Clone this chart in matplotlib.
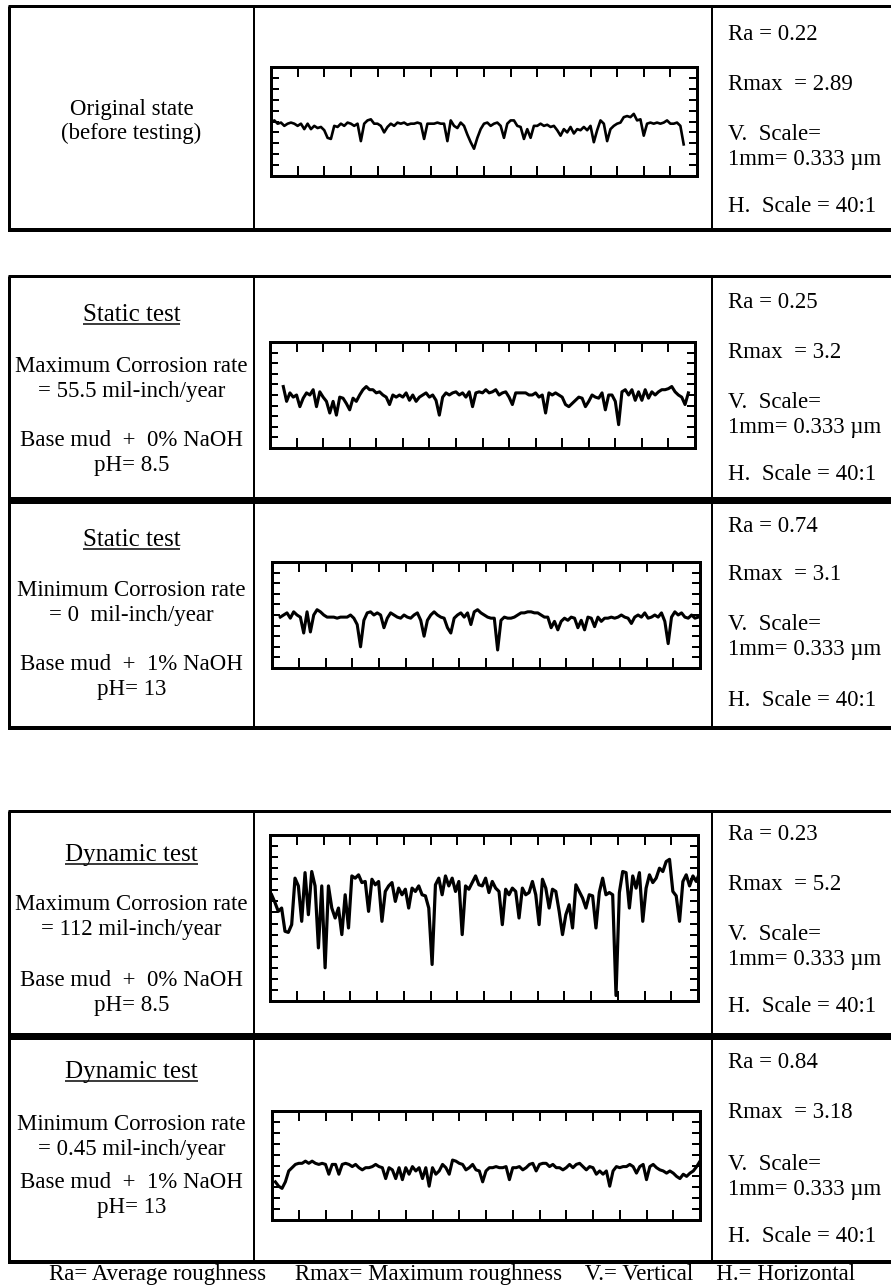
import numpy as np
import matplotlib
matplotlib.use("Agg")
import matplotlib.pyplot as plt

# ---- data -----------------------------------------------------------------
# profile heights in frame-tick units (0 = bottom edge), sampled every 1/8 tick
PROFILE_ORIGINAL = [
    4.9, 5.1, 4.8, 4.9, 4.6, 4.8, 4.9, 4.8,
    4.6, 4.8, 4.3, 4.8, 4.3, 4.6, 4.4, 4.5,
    4.2, 3.5, 3.4, 4.6, 4.5, 4.8, 4.6, 4.9,
    4.8, 4.6, 4.8, 3.2, 4.8, 5.1, 5.2, 4.8,
    4.8, 4.6, 4.0, 4.5, 4.8, 4.6, 4.9, 4.8,
    4.9, 4.7, 4.8, 4.8, 4.9, 4.8, 3.4, 4.8,
    4.8, 4.8, 4.9, 4.8, 4.8, 3.2, 5.1, 4.6,
    4.4, 4.9, 4.6, 3.8, 3.1, 2.5, 3.5, 4.3,
    4.8, 4.9, 4.6, 4.8, 4.9, 4.6, 3.5, 4.8,
    5.1, 5.1, 4.6, 4.5, 3.4, 4.3, 3.5, 4.6,
    4.6, 4.8, 4.6, 4.7, 4.5, 4.6, 4.2, 3.7,
    4.3, 4.0, 4.5, 3.9, 4.3, 4.2, 4.5, 4.2,
    4.6, 3.1, 4.2, 5.1, 4.8, 3.2, 4.3, 4.6,
    4.8, 4.9, 5.4, 5.5, 5.4, 5.7, 5.1, 5.2,
    3.7, 4.8, 4.9, 4.8, 4.9, 4.8, 4.9, 5.1,
    4.8, 4.8, 4.9, 4.6, 2.9,
]

PROFILE_STATIC_MAX = [
    5.8, 4.4, 5.2, 4.8, 5.0, 3.9, 4.7, 5.2,
    5.0, 5.5, 3.9, 5.3, 4.8, 4.4, 3.3, 4.4,
    3.1, 4.8, 4.7, 4.2, 3.6, 4.7, 4.4, 5.0,
    5.5, 5.8, 5.5, 5.5, 5.2, 5.3, 5.0, 4.8,
    4.1, 5.0, 4.8, 5.0, 4.8, 5.2, 4.5, 5.0,
    4.4, 4.8, 5.0, 5.2, 4.8, 5.0, 4.5, 3.1,
    4.8, 5.2, 5.0, 5.2, 5.3, 5.0, 5.2, 4.8,
    5.3, 3.9, 5.2, 5.3, 5.2, 5.5, 5.2, 5.3,
    5.5, 5.0, 5.2, 5.3, 4.8, 4.1, 5.2, 5.2,
    5.2, 5.2, 5.0, 5.0, 5.2, 4.8, 5.0, 3.3,
    5.2, 5.0, 5.2, 5.0, 4.8, 4.1, 3.9, 4.2,
    4.5, 4.8, 4.7, 3.9, 4.4, 5.0, 4.8, 4.7,
    5.2, 3.6, 5.0, 5.0, 4.4, 2.2, 5.3, 5.5,
    5.0, 5.5, 4.5, 5.3, 4.5, 5.5, 4.7, 5.3,
    5.0, 5.3, 5.5, 5.5, 5.6, 5.8, 5.3, 5.0,
    4.8, 4.1, 5.2,
]

PROFILE_STATIC_MIN = [
    4.8, 5.0, 5.2, 4.7, 5.3, 5.0, 4.8, 3.3,
    5.3, 3.4, 5.0, 5.5, 5.3, 5.0, 4.8, 4.8,
    4.8, 4.7, 4.8, 4.8, 4.8, 5.0, 4.7, 4.1,
    2.0, 4.5, 5.2, 5.3, 5.0, 5.2, 5.0, 3.8,
    4.7, 5.2, 5.0, 4.8, 4.7, 5.0, 4.8, 4.7,
    5.0, 5.2, 4.5, 3.0, 4.5, 5.0, 5.3, 5.0,
    4.8, 4.7, 3.8, 3.3, 4.7, 5.0, 5.2, 4.8,
    5.2, 4.1, 5.3, 5.5, 5.2, 5.0, 4.8, 4.7,
    4.7, 1.7, 4.5, 4.8, 4.7, 4.7, 4.8, 5.0,
    5.2, 5.2, 5.3, 5.3, 5.2, 5.2, 5.0, 4.8,
    4.8, 3.8, 4.4, 3.6, 4.4, 4.7, 4.5, 4.8,
    4.7, 3.8, 4.5, 3.6, 4.8, 4.7, 3.9, 4.8,
    4.4, 4.7, 4.7, 4.8, 4.7, 4.8, 5.0, 4.8,
    4.7, 4.2, 4.8, 5.0, 4.8, 5.2, 4.7, 4.8,
    5.0, 4.8, 5.2, 4.4, 2.3, 4.8, 5.3, 5.0,
    5.2, 4.8, 4.7, 5.0, 4.7, 4.8,
]

PROFILE_DYNAMIC_MAX = [
    9.6, 8.9, 8.1, 8.4, 6.3, 6.2, 6.9, 11.1,
    10.4, 7.2, 11.6, 7.8, 11.7, 10.4, 4.8, 10.4,
    3.0, 10.4, 8.4, 7.5, 8.4, 6.0, 9.6, 6.6,
    11.3, 11.1, 11.4, 10.7, 10.8, 8.1, 11.0, 10.5,
    10.8, 7.2, 9.9, 10.4, 10.7, 9.0, 10.2, 9.6,
    10.1, 8.4, 10.2, 9.9, 10.4, 9.6, 9.5, 8.4,
    3.3, 10.5, 11.1, 9.6, 11.3, 10.4, 11.1, 9.9,
    10.8, 6.0, 10.4, 10.1, 10.7, 11.3, 10.5, 10.4,
    11.1, 9.8, 10.8, 10.2, 9.9, 6.9, 10.1, 9.6,
    10.2, 9.9, 7.5, 10.2, 9.6, 9.8, 10.8, 9.6,
    6.9, 11.0, 10.2, 8.4, 10.1, 9.9, 8.1, 6.0,
    7.8, 8.7, 6.6, 10.5, 9.9, 9.3, 8.4, 9.6,
    9.5, 6.6, 9.8, 11.1, 9.6, 9.8, 9.6, 0.5,
    9.8, 11.7, 11.6, 8.4, 11.3, 10.2, 11.6, 7.2,
    10.2, 11.4, 10.7, 11.1, 12.0, 11.7, 12.6, 12.8,
    9.9, 9.5, 7.2, 10.8, 11.4, 10.4, 11.3, 10.8,
    11.6,
]

PROFILE_DYNAMIC_MIN = [
    3.5, 3.1, 2.9, 3.5, 4.5, 4.8, 5.1, 5.2,
    5.2, 5.4, 5.2, 5.4, 5.2, 5.1, 5.2, 5.1,
    4.2, 5.1, 5.1, 4.2, 5.1, 5.2, 5.1, 4.9,
    5.1, 4.8, 4.6, 4.8, 4.8, 4.9, 5.1, 4.9,
    4.8, 3.8, 4.8, 4.6, 3.8, 4.8, 3.7, 4.8,
    4.2, 4.9, 4.5, 4.8, 3.8, 4.8, 3.1, 4.8,
    4.2, 4.5, 5.1, 4.8, 4.2, 5.5, 5.4, 5.2,
    5.1, 4.6, 4.8, 5.1, 4.6, 4.5, 3.5, 4.5,
    4.8, 4.8, 4.9, 4.8, 4.8, 4.9, 3.7, 4.8,
    4.8, 4.9, 4.6, 4.8, 5.1, 5.2, 4.5, 5.1,
    5.2, 5.2, 4.9, 5.1, 4.8, 4.8, 4.6, 4.8,
    5.1, 4.8, 5.1, 5.2, 4.9, 4.6, 4.9, 4.8,
    4.2, 4.5, 4.2, 4.5, 3.1, 4.5, 4.9, 4.8,
    4.9, 4.9, 5.1, 4.9, 4.3, 4.9, 5.1, 3.7,
    4.9, 5.1, 4.8, 4.6, 4.5, 4.3, 4.5, 4.3,
    4.0, 3.8, 4.2, 4.0, 4.3, 4.5, 4.9, 5.4,
]

PROFILES = [PROFILE_ORIGINAL, PROFILE_STATIC_MAX, PROFILE_STATIC_MIN,
            PROFILE_DYNAMIC_MAX, PROFILE_DYNAMIC_MIN]
PROFILE_START = [0.0, 0.5, 0.31, 0.06, 0.125]   # tick units where the trace begins
FRAME_HEIGHT_TICKS = [10, 10, 10, 15, 10]

TITLES = [None, "Static test", "Static test", "Dynamic test", "Dynamic test"]
CONDITION_TEXT = [
    ["Original state", "(before testing)"],
    ["Maximum Corrosion rate", "= 55.5 mil-inch/year", "Base mud  +  0% NaOH", "pH= 8.5"],
    ["Minimum Corrosion rate", "= 0  mil-inch/year", "Base mud  +  1% NaOH", "pH= 13"],
    ["Maximum Corrosion rate", "= 112 mil-inch/year", "Base mud  +  0% NaOH", "pH= 8.5"],
    ["Minimum Corrosion rate", "= 0.45 mil-inch/year", "Base mud  +  1% NaOH", "pH= 13"],
]
RA = ["0.22", "0.25", "0.74", "0.23", "0.84"]
RMAX = ["2.89", "3.2", "3.1", "5.2", "3.18"]
V_SCALE = "1mm= 0.333 \u00b5m"
H_SCALE = "40:1"
FOOTER = ("Ra= Average roughness     Rmax= Maximum roughness    "
          "V.= Vertical    H.= Horizontal")

# ---- layout (pixels of the 891 x 1287 page) ---------------------------------
W, H = 891, 1287
X_LEFT, X_COL1, X_COL2 = 9, 254, 712
# (top, separator, bottom) of the three boxes
BOXES = [(6, None, 230), (276, 500, 728), (811, 1036, 1262)]
# profile frames: x0, x1, y0 (top), y1 (bottom)
FRAMES = [(271, 697, 67, 176), (270, 695, 342, 448), (272, 700, 562, 668),
          (270, 698, 835, 1001), (272, 700, 1111, 1220)]
TRACE_WIDTH = [1.9, 2.2, 2.2, 2.3, 2.2]
TITLE_Y = [None, 313, 538, 853, 1070]
COND_Y = [[107, 132], [365, 390, 438, 463], [588, 613, 663, 688],
          [903, 928, 978, 1003], [1122, 1147, 1180, 1205]]
RIGHT_Y = [[33, 83, 132, 157, 205], [300, 350, 400, 425, 473],
           [525, 573, 623, 648, 698], [832, 882, 932, 957, 1005],
           [1060, 1110, 1163, 1187, 1235]]

PX = 0.72  # points per pixel at 100 dpi
plt.rcParams["font.family"] = ["Liberation Serif", "DejaVu Serif"]
BODY = 16.5
TITLE = 18

fig = plt.figure(figsize=(W / 100, H / 100), dpi=100)
fig.patch.set_facecolor("white")
bg = fig.add_axes([0, 0, 1, 1])
bg.set_xlim(0, W)
bg.set_ylim(H, 0)
bg.axis("off")


def hline(y, x0, x1, px):
    bg.plot([x0, x1], [y, y], color="black", lw=px * PX, solid_capstyle="butt")


def vline(x, y0, y1, px):
    bg.plot([x, x], [y0, y1], color="black", lw=px * PX, solid_capstyle="butt")


for top, sep, bottom in BOXES:
    hline(top, X_LEFT - 1.5, W, 3)
    hline(bottom, X_LEFT - 1.5, W, 4)
    if sep is not None:
        hline(sep, X_LEFT, W, 7)
    vline(X_LEFT, top, bottom, 3)
    vline(X_COL1, top, bottom, 2)
    vline(X_COL2, top, bottom, 2)

renderer = fig.canvas.get_renderer()
x_mid = (X_LEFT + X_COL1) / 2

for i in range(5):
    # left column
    if TITLES[i]:
        base = TITLE_Y[i] + 8
        t = bg.text(x_mid, base, TITLES[i], fontsize=TITLE, ha="center", va="baseline")
        bb = t.get_window_extent(renderer)
        hline(base + 3, bb.x0, bb.x1, 1.5)
    for line, y in zip(CONDITION_TEXT[i], COND_Y[i]):
        bg.text(x_mid, y + 7.5, line, fontsize=BODY, ha="center", va="baseline")

    # right column
    right_lines = [f"Ra = {RA[i]}", f"Rmax  = {RMAX[i]}", "V.  Scale=",
                   V_SCALE, f"H.  Scale = {H_SCALE}"]
    for line, y in zip(right_lines, RIGHT_Y[i]):
        bg.text(X_COL2 + 16, y + 7.5, line, fontsize=BODY, ha="left", va="baseline")

    # profile trace
    x0, x1, y0, y1 = FRAMES[i]
    ax = fig.add_axes([x0 / W, 1 - y1 / H, (x1 - x0) / W, (y1 - y0) / H])
    vals = np.array(PROFILES[i])
    xs = PROFILE_START[i] + np.arange(len(vals)) * 0.125
    ax.plot(xs, vals, color="black", lw=TRACE_WIDTH[i], solid_joinstyle="round")
    ny = FRAME_HEIGHT_TICKS[i]
    ax.set_xlim(0, 16)
    ax.set_ylim(0, ny)
    ax.set_xticks(range(1, 16))
    ax.set_yticks(range(1, ny))
    ax.tick_params(axis="x", direction="in", top=True, bottom=True, length=10 * PX,
                   width=2 * PX, labelbottom=False)
    ax.tick_params(axis="y", direction="in", left=True, right=True, length=8 * PX,
                   width=2 * PX, labelleft=False)
    for s in ax.spines.values():
        s.set_linewidth(3 * PX)
    ax.set_facecolor("none")

bg.text(452, 1280, FOOTER, fontsize=BODY, ha="center", va="baseline")

fig.savefig("out.png", dpi=100, facecolor="white")
